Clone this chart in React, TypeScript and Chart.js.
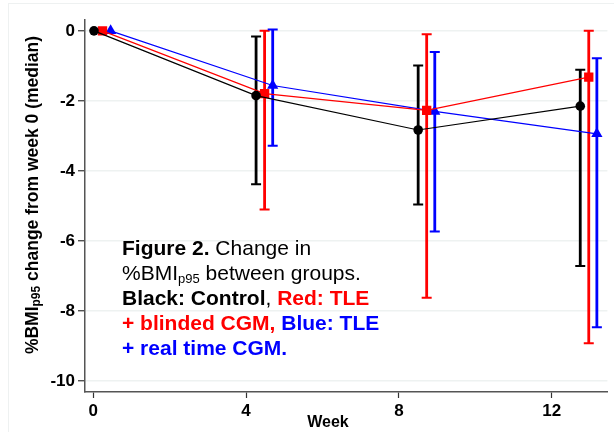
import React, { useEffect, useRef } from "react";
import { Chart, registerables } from "chart.js";

Chart.register(...registerables);

const weeks = [0, 4, 8, 12];
const xTicks = [0, 4, 8, 12];
const yTicks = [0, -2, -4, -6, -8, -10];

const controlMedian = [0, -1.85, -2.83, -2.15];
const controlLow = [0, -4.38, -4.96, -6.71];
const controlHigh = [0, -0.16, -0.99, -1.11];

const blindedMedian = [0, -1.79, -2.27, -1.32];
const blindedLow = [0, -5.1, -7.62, -8.92];
const blindedHigh = [0, 0.0, -0.1, 0.0];

const realtimeMedian = [0, -1.56, -2.3, -2.94];
const realtimeLow = [0, -3.28, -5.73, -8.46];
const realtimeHigh = [0, 0.04, -0.6, -0.78];

const seriesShift = [0, 0.21, 0.41];

const FONT = "'Liberation Sans', Arial, Helvetica, sans-serif";

export default function App() {
  const ref = useRef<HTMLCanvasElement>(null);

  useEffect(() => {
    const canvas = ref.current;
    if (!canvas) return;

    const groups = [
      { label: "Control", color: "#000000", med: controlMedian, lo: controlLow, hi: controlHigh, style: "circle", r: 4.8 },
      { label: "TLE + blinded CGM", color: "#ff0000", med: blindedMedian, lo: blindedLow, hi: blindedHigh, style: "rect", r: 6.6 },
      { label: "TLE + real time CGM", color: "#0000ff", med: realtimeMedian, lo: realtimeLow, hi: realtimeHigh, style: "triangle", r: 6.5 },
    ];

    const errorBars = {
      id: "errorBars",
      beforeDatasetsDraw(chart: any) {
        const ctx = chart.ctx;
        const xs = chart.scales.xd;
        const ys = chart.scales.y;
        ctx.save();
        groups.forEach((g, gi) => {
          weeks.forEach((w, i) => {
            if (g.lo[i] === g.hi[i]) return;
            const x = xs.getPixelForValue(w + seriesShift[gi]);
            const yl = ys.getPixelForValue(g.lo[i]);
            const yh = ys.getPixelForValue(g.hi[i]);
            ctx.strokeStyle = g.color;
            ctx.lineWidth = 2.8;
            ctx.beginPath();
            ctx.moveTo(x, yh);
            ctx.lineTo(x, yl);
            ctx.stroke();
            ctx.lineWidth = 2;
            ctx.beginPath();
            ctx.moveTo(x - 5, yh);
            ctx.lineTo(x + 5, yh);
            ctx.moveTo(x - 5, yl);
            ctx.lineTo(x + 5, yl);
            ctx.stroke();
          });
        });
        ctx.restore();
      },
    };

    const titles = {
      id: "titles",
      afterDraw(chart: any) {
        const ctx = chart.ctx;
        ctx.save();
        ctx.fillStyle = "#000";
        ctx.font = `bold 16px ${FONT}`;
        ctx.textAlign = "center";
        ctx.textBaseline = "middle";
        ctx.fillText("Week", 328, 423);
        const big = `bold 17.5px ${FONT}`;
        const small = `bold 12px ${FONT}`;
        const parts = [
          { t: "%BMI", f: big, dy: 0 },
          { t: "p95", f: small, dy: 4 },
          { t: " change from week 0 (median)", f: big, dy: 0 },
        ];
        let total = 0;
        parts.forEach((p) => {
          ctx.font = p.f;
          total += ctx.measureText(p.t).width;
        });
        ctx.translate(33, 195);
        ctx.rotate(-Math.PI / 2);
        ctx.textAlign = "left";
        ctx.textBaseline = "middle";
        let x = -total / 2;
        parts.forEach((p) => {
          ctx.font = p.f;
          ctx.fillText(p.t, x, p.dy);
          x += ctx.measureText(p.t).width;
        });
        ctx.restore();
      },
    };

    const chart = new Chart(canvas, {
      type: "line",
      data: {
        datasets: groups.map((g, gi) => ({
          label: g.label,
          data: weeks.map((w, i) => ({ x: w + seriesShift[gi], y: g.med[i] })),
          xAxisID: "xd",
          yAxisID: "y",
          borderColor: g.color,
          backgroundColor: g.color,
          borderWidth: 1.2,
          pointStyle: g.style as any,
          pointRadius: g.r,
          pointBorderWidth: 0,
          pointBackgroundColor: g.color,
          tension: 0,
          fill: false,
        })),
      },
      options: {
        animation: false,
        responsive: false,
        maintainAspectRatio: false,
        layout: { padding: { left: 0, right: 0, top: 20, bottom: 0 } },
        plugins: {
          legend: { display: false },
          tooltip: { enabled: false },
        },
        scales: {
          xd: {
            type: "linear",
            display: false,
            min: -0.222,
            max: 12.67,
          },
          x: {
            type: "linear",
            position: "bottom",
            min: -0.217,
            max: 13.46,
            afterBuildTicks: (s: any) => {
              s.ticks = xTicks.map((v) => ({ value: v }));
            },
            afterFit: (s: any) => {
              s.height = 40;
            },
            border: { display: true, color: "#555", width: 1.5 },
            grid: { drawOnChartArea: false, tickLength: 6, tickColor: "#333", tickWidth: 1.2 },
            ticks: {
              color: "#000",
              font: { family: FONT, size: 17, weight: "bold" },
              padding: 3,
              maxRotation: 0,
              autoSkip: false,
            },
          },
          y: {
            type: "linear",
            min: -10.31,
            max: 0.31,
            afterBuildTicks: (s: any) => {
              s.ticks = yTicks.map((v) => ({ value: v }));
            },
            afterFit: (s: any) => {
              s.width = 85;
            },
            border: { display: true, color: "#555", width: 1.5 },
            grid: { color: "#eef2f1", lineWidth: 1.5, tickLength: 7, tickColor: "#333", tickWidth: 1.2 },
            ticks: {
              color: "#000",
              font: { family: FONT, size: 17, weight: "bold" },
              padding: 3,
              autoSkip: false,
            },
          },
        },
      },
      plugins: [errorBars, titles],
    });

    return () => chart.destroy();
  }, []);

  const line = { margin: 0, height: 25, lineHeight: "25px", whiteSpace: "nowrap" as const };

  return (
    <div style={{ position: "fixed", left: 0, top: 0, width: 614, height: 432, background: "#fff", overflow: "hidden" }}>
      <div style={{ position: "absolute", left: 8, top: 3, width: 640, height: 460, border: "1px solid #eef1f1" }} />
      <canvas ref={ref} width={614} height={432} style={{ position: "absolute", left: 0, top: 0, width: 614, height: 432 }} />
      <div
        style={{
          position: "absolute",
          left: 122,
          top: 235,
          fontFamily: FONT,
          fontSize: 21,
          color: "#000",
        }}
      >
        <div style={line}>
          <b>Figure 2.</b> Change in
        </div>
        <div style={line}>
          %BMI<sub style={{ fontSize: 13, verticalAlign: "-3px" }}>p95</sub> between groups.
        </div>
        <div style={line}>
          <b>Black: Control</b>, <b style={{ color: "#ff0000" }}>Red: TLE</b>
        </div>
        <div style={line}>
          <b style={{ color: "#ff0000" }}>+ blinded CGM,</b> <b style={{ color: "#0000ff" }}>Blue: TLE</b>
        </div>
        <div style={line}>
          <b style={{ color: "#0000ff" }}>+ real time CGM.</b>
        </div>
      </div>
    </div>
  );
}
